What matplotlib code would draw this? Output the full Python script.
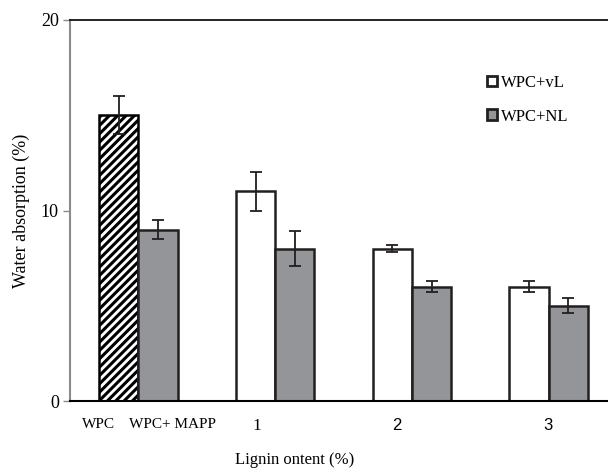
import matplotlib.pyplot as plt
from matplotlib.patches import Patch

# control samples (no lignin)
control_labels = ['WPC', 'WPC+ MAPP']
control_values = [15, 9]
control_errors = [1.0, 0.5]

# lignin series
lignin_levels = ['1', '2', '3']
vl_values = [11, 8, 6]
vl_errors = [1.0, 0.2, 0.3]
nl_values = [8, 6, 5]
nl_errors = [0.9, 0.3, 0.4]

gray = '#939598'
edge = '#231f20'
width = 0.2875

plt.rcParams['hatch.linewidth'] = 2.2
plt.rcParams['hatch.color'] = 'black'

fig = plt.figure(figsize=(6.08, 4.68), dpi=100)
ax = fig.add_axes([70 / 608, 1 - 401 / 468, 1 - 70 / 608, 381 / 468])

err_kw = dict(ecolor=edge, elinewidth=1.3, capsize=4, capthick=1.3)

# control pair at x=0
ax.bar(0 - width / 2, control_values[0], width, yerr=control_errors[0],
       color='white', edgecolor='black', hatch='////', linewidth=1.8,
       error_kw=err_kw)
ax.bar(0 + width / 2, control_values[1], width, yerr=control_errors[1],
       color=gray, edgecolor=edge, linewidth=1.8, error_kw=err_kw)

# lignin groups at x=1,2,3
xs = [1, 2, 3]
ax.bar([x - width / 2 for x in xs], vl_values, width, yerr=vl_errors,
       color='white', edgecolor=edge, linewidth=1.8, error_kw=err_kw)
ax.bar([x + width / 2 for x in xs], nl_values, width, yerr=nl_errors,
       color=gray, edgecolor=edge, linewidth=1.8, error_kw=err_kw)

ax.set_xlim(-0.501, 3.435)
ax.set_ylim(0, 20)
ax.set_yticks([0, 10, 20])
ax.set_yticklabels(['0', '10', '20'], family='Liberation Serif', fontsize=13)

# category labels sit a little off the bar centres, as in the source figure
tick_pos = [-0.292, 0.248, 0.867, 1.89, 2.996]
ax.set_xticks(tick_pos)
ax.set_xticklabels(control_labels + lignin_levels)
fonts = ['Liberation Serif', 'Liberation Serif', 'Liberation Serif',
         'Liberation Sans', 'Liberation Sans']
sizes = [11, 11, 12.5, 12, 12]
for lab, f, s in zip(ax.get_xticklabels(), fonts, sizes):
    lab.set_family(f)
    lab.set_fontsize(s)
ax.tick_params(axis='x', length=0, pad=12)
ax.tick_params(axis='y', length=5, width=1, color='#8a8a8a', pad=3)

ax.spines['right'].set_visible(False)
ax.spines['left'].set_color('#8a8a8a')
ax.spines['left'].set_linewidth(1.5)
ax.spines['top'].set_color('black')
ax.spines['top'].set_linewidth(1.2)
ax.spines['bottom'].set_color('black')
ax.spines['bottom'].set_linewidth(1.5)

ax.set_ylabel('Water absorption (%)', family='Liberation Serif', fontsize=13)
ax.yaxis.set_label_coords(-0.075, 0.5)
ax.set_xlabel('Lignin ontent (%)', family='Liberation Serif', fontsize=12)
ax.xaxis.set_label_coords((295 - 70) / 538, -0.135)

handles = [Patch(facecolor='white', edgecolor=edge, linewidth=2, label='WPC+vL'),
           Patch(facecolor=gray, edgecolor=edge, linewidth=2, label='WPC+NL')]
ax.legend(handles=handles, loc='upper left', bbox_to_anchor=(0.748, 0.895),
          frameon=False, handlelength=0.6, handleheight=0.6, handletextpad=0.2,
          labelspacing=1.05, prop={'family': 'Liberation Serif', 'size': 12})

fig.savefig('out.png', dpi=100)
